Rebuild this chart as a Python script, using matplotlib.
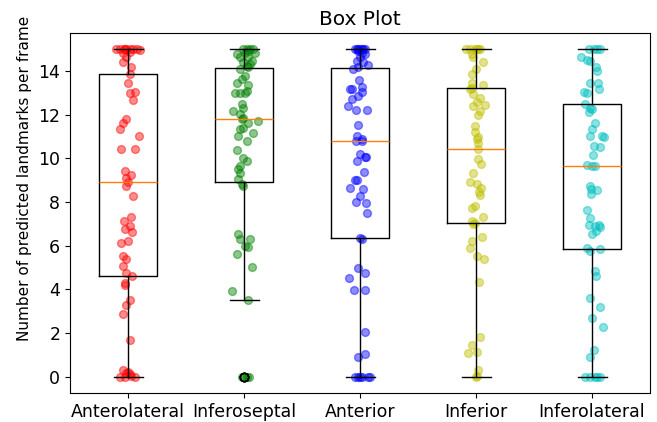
import matplotlib
matplotlib.use('Agg')
import matplotlib.pyplot as plt

# regions on the x axis
regions = ['Anterolateral', 'Inferoseptal', 'Anterior', 'Inferior', 'Inferolateral']

# predicted landmarks per frame, one list per region
anterolateral = [15, 15, 15, 15, 15, 15, 15, 14.95, 15, 14.9,
                 14.85, 14.63, 14.40, 14.17, 13.88, 13.48, 13.02, 13.05, 12.68,
                 11.79, 11.64, 11.34, 11.03, 10.42, 10.42, 9.42, 9.24, 9.12,
                 8.93,
                 8.74, 8.28, 7.33, 7.13, 6.90, 6.75, 6.64, 6.21, 6.13, 5.52,
                 5.37, 5.09, 4.76, 4.60, 4.30, 4.22, 3.53, 3.30, 2.85, 1.70,
                 0.3, 0.15, 0.1, 0.05, 0, 0, 0, 0.2]
inferoseptal = [15, 15, 15, 15, 14.93, 14.85, 14.85, 14.78, 14.63, 14.63, 14.47, 14.40, 14.32, 14.25,
                14.12, 14.18, 13.78, 13.63, 13.48, 13.36, 13.02, 13.02, 13.02, 13.10, 12.49, 12.33,
                12.18, 12.02, 11.87,
                11.79,
                11.72, 11.64, 11.41, 11.34, 11.15, 11.03, 10.80, 10.39, 10.04, 9.88, 9.65, 9.50,
                9.35, 9.04, 8.81, 8.74,
                6.52, 6.32, 6.29, 5.98, 5.95, 5.60, 5.03, 3.92, 3.50,
                0, 0, 0, 0]
anterior = [15, 15, 15, 15, 15, 15, 15, 14.93, 14.85, 14.78, 14.63, 14.47, 14.40, 14.28, 14.21,
            14.10, 13.59, 13.29, 13.17, 13.17, 13.05, 12.87, 12.72, 12.41, 12.23, 12.23, 11.52,
            11.03, 10.91, 10.82,
            10.78, 10.19, 10.08, 10.06, 9.88, 9.37, 8.99, 8.99, 8.64, 8.58, 8.27, 7.99, 7.94,
            7.51, 6.36, 6.33, 4.99, 4.73, 4.50, 3.99, 3.96, 2.03, 1.05, 0.88,
            0, 0, 0, 0, 0, 0]
inferior = [15, 15, 15, 15, 15, 15,
            14.78, 14.63, 14.43, 14.09, 13.86, 13.47, 13.35, 13.20, 12.94, 12.79, 12.44, 12.41,
            12.18, 11.98, 11.19, 11.00, 10.72, 13.25, 12.6, 11.5, 10.9,
            10.42,
            9.99, 9.73, 9.35, 8.92, 8.81, 8.66, 8.46, 8.31, 7.82, 7.74, 7.33, 7.13, 7.06, 6.98,
            6.41, 6.21, 5.90, 5.52, 5.37, 4.34, 1.82, 1.47, 1.12, 1.09, 0.29, 0.02, 0]
inferolateral = [15, 15, 15, 15,
                 14.67, 14.52, 14.47, 14.17, 14.01, 13.45, 13.45, 13.20, 13.05, 12.99, 12.48, 12.33,
                 12.25, 12.13, 11.61, 11.36, 11.03, 11.00, 11.03, 10.57, 10.54, 10.14, 9.68,
                 9.65, 9.65,
                 8.73, 8.58, 8.55, 8.35, 7.66, 7.28, 6.97, 6.97, 6.90, 6.86, 6.67, 6.56, 5.90,
                 5.87, 5.75, 4.83, 4.60, 3.61, 3.18, 2.69, 2.26, 1.20, 0.91,
                 0, 0, 0, 0, 0]

# horizontal jitter of each point, as seen in the chart
anterolateral_jit = [-0.106, -0.072, -0.037, -0.014, 0.014, 0.043, 0.078, 0.100, -0.030, 0.020,
                     -0.043, -0.014, -0.043, 0.029, 0.014, 0.0, 0.014, 0.057, 0.043,
                     -0.020, -0.043, -0.072, 0.092, -0.057, 0.057, -0.029, 0.029, -0.014,
                     0.0,
                     -0.014, 0.043, 0.029, -0.037, 0.014, -0.029, 0.037, 0.0, -0.063, -0.043,
                     -0.020, -0.040, -0.020, 0.037, -0.029, -0.029, 0.014, -0.014, -0.043, 0.020,
                     -0.043, -0.014, 0.014, 0.029, 0.057, -0.072, -0.030, 0.0]
inferoseptal_jit = [-0.006, 0.023, 0.052, 0.080, 0.037, 0.095, 0.009, -0.063, -0.034, 0.037, 0.066, -0.006, 0.052, 0.023,
                    -0.034, 0.037, 0.009, -0.020, -0.063, 0.037, -0.078, -0.034, 0.009, 0.023, -0.020, -0.006,
                    -0.092, -0.034, -0.006,
                    -0.020,
                    0.124, 0.037, -0.006, -0.034, 0.080, -0.049, 0.023, -0.063, -0.006, 0.023, -0.034, -0.049,
                    -0.034, -0.049, -0.020, -0.006,
                    -0.049, 0.052, -0.034, 0.009, 0.037, -0.063, 0.072, -0.106, 0.037,
                    -0.020, 0.0, 0.023, 0.046]
anterior_jit = [-0.029, 0.0, 0.029, -0.014, 0.014, 0.040, -0.040, -0.014, 0.014, 0.043, 0.0, -0.029, 0.029, 0.072, -0.014,
                -0.057, -0.006, 0.014, -0.072, -0.086, 0.014, -0.014, -0.072, -0.100, -0.034, 0.057, -0.020,
                -0.029, 0.014, -0.034,
                0.014, 0.0, 0.052, 0.043, -0.023, 0.037, -0.043, -0.029, -0.086, 0.023, 0.0, -0.034, 0.049,
                0.063, 0.0, 0.014, -0.020, 0.043, -0.092, -0.052, 0.043, 0.043, 0.043, -0.020,
                -0.043, -0.014, 0.014, 0.072, 0.086, 0.0]
inferior_jit = [-0.086, -0.052, -0.009, 0.020, 0.034, 0.006,
                -0.037, -0.023, 0.063, 0.0, -0.037, -0.032, 0.057, -0.052, -0.023, 0.034, 0.078, -0.023,
                0.034, 0.020, -0.009, 0.014, 0.020, -0.037, 0.006, -0.009, 0.006,
                0.020,
                0.020, 0.040, -0.023, -0.052, 0.006, 0.040, 0.029, 0.034, -0.009, -0.037, 0.063, -0.032, -0.009, -0.023,
                0.049, -0.032, -0.052, 0.006, 0.069, 0.029, 0.034, -0.037, 0.011, -0.066, 0.020, 0.006, 0.0]
inferolateral_jit = [-0.029, 0.043, 0.072, 0.014,
                     -0.095, -0.043, -0.014, 0.037, 0.043, -0.020, 0.052, 0.057, -0.072, -0.043, -0.057, -0.014,
                     0.0, -0.029, 0.029, 0.0, 0.086, 0.100, -0.014, 0.020, 0.072, 0.009, -0.043,
                     0.0, 0.029,
                     -0.014, -0.006, 0.043, -0.009, -0.043, -0.014, 0.057, -0.029, 0.029, 0.072, 0.037, 0.0, -0.043,
                     0.066, -0.014, 0.029, 0.037, -0.014, 0.072, 0.0, 0.092, 0.014, -0.014,
                     -0.057, -0.014, 0.029, 0.072, 0.043]

data = [anterolateral, inferoseptal, anterior, inferior, inferolateral]
jitter = [anterolateral_jit, inferoseptal_jit, anterior_jit, inferior_jit, inferolateral_jit]
colors = ['r', 'g', 'b', 'y', 'c']

plt.rcParams['font.size'] = 12

fig = plt.figure(figsize=(6.57, 4.22), dpi=100)
ax = fig.add_axes([70 / 657, 1 - 393 / 422, 580 / 657, 360 / 422])

for i, (vals, jit, c) in enumerate(zip(data, jitter, colors)):
    xs = [i + 1 + j for j in jit]
    ax.scatter(xs, vals, s=32, color=c, alpha=0.45)

ax.boxplot(data, widths=0.5,
           boxprops=dict(color='black'),
           whiskerprops=dict(color='black'),
           capprops=dict(color='black'),
           medianprops=dict(color='#ff7f0e'))

ax.set_xticks(range(1, len(regions) + 1))
ax.set_xticklabels(regions, fontsize=12.5)
ax.tick_params(axis='y', labelsize=12.5)
ax.set_title('Box Plot', fontsize=14.5)
ax.set_ylabel('Number of predicted landmarks per frame', fontsize=11)
ax.yaxis.set_label_coords(-0.066, 0.597)

fig.savefig('out.png', dpi=100)
